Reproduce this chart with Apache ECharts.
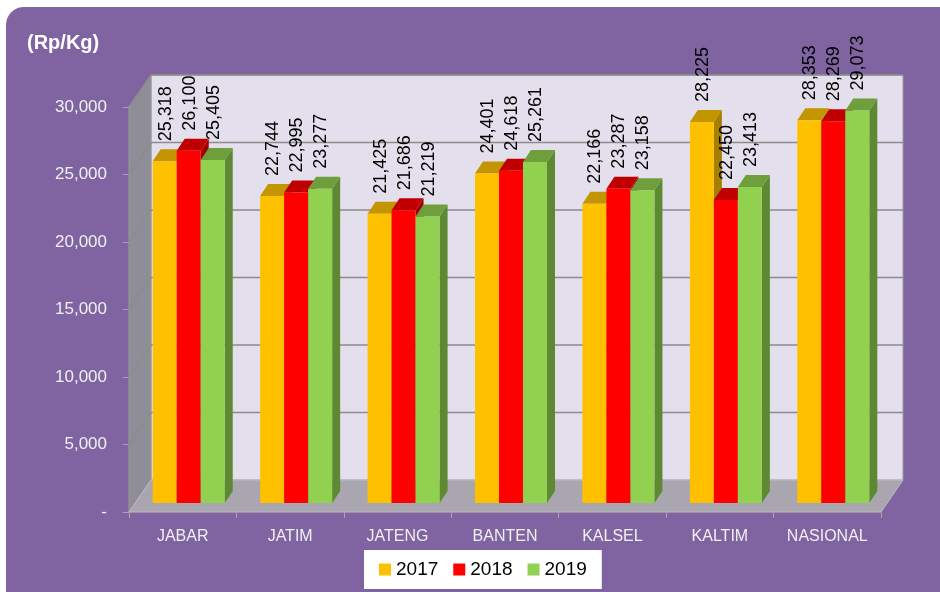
<!DOCTYPE html>
<html>
<head>
<meta charset="utf-8">
<script src="https://cdn.jsdelivr.net/npm/echarts@6/dist/echarts.min.js"></script>
<style>
  html, body { margin: 0; padding: 0; background: #fff; }
  #bg { position: absolute; left: 6px; top: 7px; width: 960px; height: 610px; background: #8064A2; border-radius: 18px; }
  #main { position: absolute; left: 0; top: 0; width: 940px; height: 592px; }
</style>
</head>
<body>
<div id="bg"></div>
<div id="main"></div>
<script>
// harga rata-rata per provinsi (Rp/Kg)
var categories = ['JABAR', 'JATIM', 'JATENG', 'BANTEN', 'KALSEL', 'KALTIM', 'NASIONAL'];
var years = ['2017', '2018', '2019'];
var data2017 = [25318, 22744, 21425, 24401, 22166, 28225, 28353];
var data2018 = [26100, 22995, 21686, 24618, 23287, 22450, 28269];
var data2019 = [25405, 23277, 21219, 25261, 23158, 23413, 29073];
var yMin = 0, yMax = 30000, yStep = 5000;

// warna: depan, atas, samping
var colors = [
    ['#FFC000', '#C39500', '#A67E00'],
    ['#FF0000', '#C00000', '#A00000'],
    ['#92D050', '#6F9E3C', '#5D8932']
];

var WALL = [22, -32];   // kedalaman dinding belakang
var BAR_OFF = [6, -9];  // posisi batang di lantai
var BAR_D = [8, -12];   // tebal batang

function fmt(v) {
    return v === 0 ? '-' : v.toLocaleString('en-US');
}

function frameRender(params, api) {
    var cs = params.coordSys;
    var x = cs.x, y = cs.y, w = cs.width, h = cs.height;
    var kids = [];
    kids.push({ type: 'rect', shape: { x: x + WALL[0], y: y + WALL[1], width: w, height: h },
        style: { fill: '#E4DFEC', stroke: '#9A9A9A', lineWidth: 1 } });
    kids.push({ type: 'polygon', shape: { points: [[x, y + h], [x, y], [x + WALL[0], y + WALL[1]], [x + WALL[0], y + h + WALL[1]]] },
        style: { fill: '#8F8E97', stroke: '#9A9A9A', lineWidth: 1 } });
    for (var v = yMin + yStep; v <= yMax; v += yStep) {
        var py = api.coord([0, v])[1];
        kids.push({ type: 'polyline', shape: { points: [[x, py], [x + WALL[0], py + WALL[1]], [x + w + WALL[0], py + WALL[1]]] },
            style: { stroke: '#8C8C8C', lineWidth: 1.5, fill: null } });
    }
    kids.push({ type: 'polygon', shape: { points: [[x, y + h], [x + w, y + h], [x + w + WALL[0], y + h + WALL[1]], [x + WALL[0], y + h + WALL[1]]] },
        style: { fill: '#A9A6B0', stroke: '#BDBDBD', lineWidth: 1 } });
    return { type: 'group', children: kids };
}

function barRender(si) {
    return function (params, api) {
        var ci = api.value(0), v = api.value(1);
        var band = api.size([1, 0])[0];
        var top = api.coord([ci, v]);
        var base = api.coord([ci, 0]);
        var bw = band * 0.2235;
        var x0 = top[0] - 1.5 * bw + si * bw + BAR_OFF[0];
        var x1 = x0 + bw;
        var yt = top[1] + BAR_OFF[1];
        var yb = base[1] + BAR_OFF[1];
        var c = colors[si];
        return {
            type: 'group',
            children: [
                { type: 'polygon', shape: { points: [[x1, yb], [x1, yt], [x1 + BAR_D[0], yt + BAR_D[1]], [x1 + BAR_D[0], yb + BAR_D[1]]] },
                  style: { fill: c[2] } },
                { type: 'polygon', shape: { points: [[x0, yt], [x1, yt], [x1 + BAR_D[0], yt + BAR_D[1]], [x0 + BAR_D[0], yt + BAR_D[1]]] },
                  style: { fill: c[1] } },
                { type: 'rect', shape: { x: x0, y: yt, width: bw, height: yb - yt }, style: { fill: c[0] } },
                { type: 'text', x: x0 + bw / 2 + 1, y: yt + BAR_D[1] - 8, rotation: Math.PI / 2,
                  style: { text: fmt(v), align: 'left', verticalAlign: 'middle', fill: '#000',
                           font: '18px "Liberation Sans", Arial, sans-serif' } }
            ]
        };
    };
}

function toPairs(arr) {
    return arr.map(function (v, i) { return [i, v]; });
}

var e = echarts.init(document.getElementById('main'));

option = {
    backgroundColor: 'transparent',
    textStyle: { fontFamily: '"Liberation Sans", Arial, sans-serif' },
    title: {
        text: '(Rp/Kg)',
        left: 22,
        top: 28,
        textStyle: { color: '#fff', fontSize: 20, fontWeight: 'bold' }
    },
    legend: {
        data: years,
        left: 364,
        top: 550,
        padding: [10, 15],
        itemGap: 15,
        itemWidth: 12,
        itemHeight: 12,
        icon: 'rect',
        backgroundColor: '#fff',
        textStyle: { color: '#000', fontSize: 19 }
    },
    grid: {
        left: 129,
        right: 59,
        top: 107,
        bottom: 80
    },
    xAxis: {
        type: 'category',
        data: categories,
        z: 5,
        axisLine: { show: false },
        axisTick: { show: true, length: 6, lineStyle: { color: '#A6A6A6' } },
        axisLabel: { color: '#F0F0F0', fontSize: 16, margin: 17 }
    },
    yAxis: {
        type: 'value',
        min: yMin,
        max: yMax,
        interval: yStep,
        axisLine: { show: false },
        axisTick: { show: true, length: 6, lineStyle: { color: '#A6A6A6' } },
        splitLine: { show: false },
        axisLabel: { color: '#F0F0F0', fontSize: 17, margin: 22, formatter: fmt }
    },
    series: [
        { name: 'frame', type: 'custom', z: 1, silent: true, renderItem: frameRender, data: [[0, 0]] },
        { name: '2017', type: 'custom', z: 3, renderItem: barRender(0), itemStyle: { color: colors[0][0] }, data: toPairs(data2017) },
        { name: '2018', type: 'custom', z: 3, renderItem: barRender(1), itemStyle: { color: colors[1][0] }, data: toPairs(data2018) },
        { name: '2019', type: 'custom', z: 3, renderItem: barRender(2), itemStyle: { color: colors[2][0] }, data: toPairs(data2019) }
    ]
};
e.setOption(option);
</script>
</body>
</html>
